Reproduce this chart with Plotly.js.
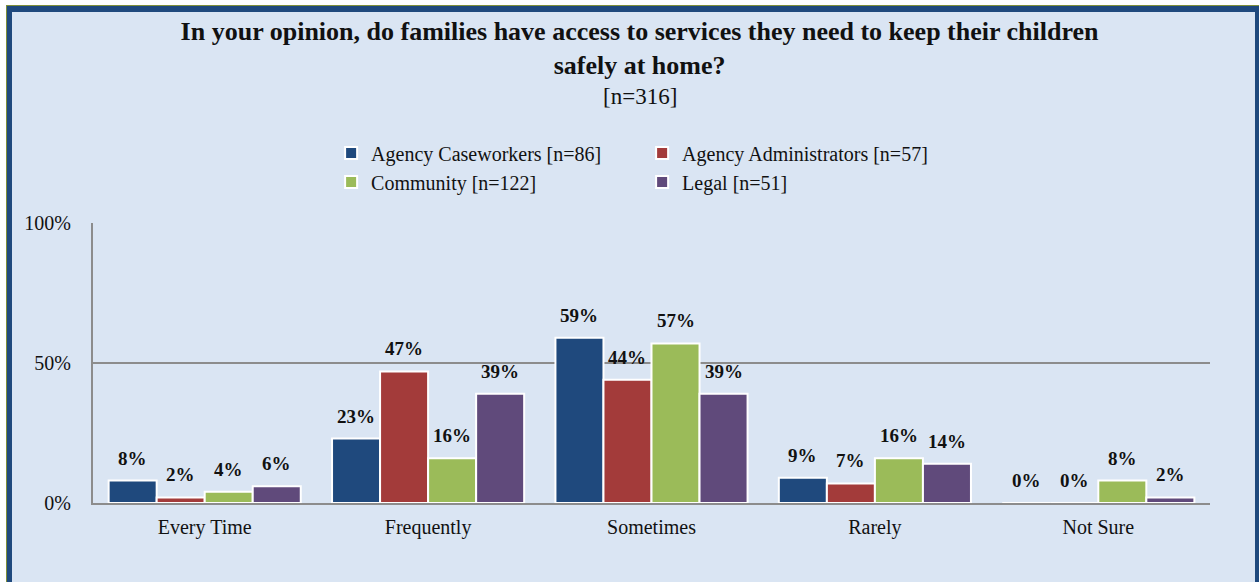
<!DOCTYPE html>
<html>
<head>
<meta charset="utf-8">
<script src="https://cdn.plot.ly/plotly-3.0.1.min.js"></script>
<style>
  html, body { margin: 0; padding: 0; background: #ffffff; }
  #wrap { position: relative; width: 1259px; height: 582px; overflow: hidden; }
  #chart { position: absolute; left: 0; top: 0; width: 1259px; height: 582px; }
  .deco { position: absolute; pointer-events: none; }
</style>
</head>
<body>
<div id="wrap">
  <div id="chart"></div>
  <!-- frame decoration -->
  <div class="deco" style="left:0;top:0;width:1259px;height:5px;background:#ffffff;"></div>
  <div class="deco" style="left:0;top:0;width:6px;height:582px;background:#ffffff;"></div>
  <div class="deco" style="left:6px;top:5px;width:1253px;height:1px;background:#7f8f3a;"></div>
  <div class="deco" style="left:6px;top:5px;width:1px;height:577px;background:#7f8f3a;"></div>
  <div class="deco" style="left:7px;top:6px;width:1252px;height:6px;background:#1f497d;"></div>
  <div class="deco" style="left:7px;top:6px;width:5px;height:576px;background:#1f497d;"></div>
  <div class="deco" style="left:1255px;top:6px;width:4px;height:576px;background:#1f497d;"></div>
</div>
<script>
const categories = ["Every Time", "Frequently", "Sometimes", "Rarely", "Not Sure"];
const seriesNames = ["Agency Caseworkers [n=86]", "Agency Administrators [n=57]", "Community [n=122]", "Legal [n=51]"];
const caseworkers = [8, 23, 59, 9, 0];
const administrators = [2, 47, 44, 7, 0];
const community = [4, 16, 57, 16, 8];
const legal = [6, 39, 39, 14, 2];
const yTicks = [0, 50, 100];
const yTickText = ["0%", "50%", "100%"];

const seriesValues = [caseworkers, administrators, community, legal];
const colors = ["#1f497d", "#a33b3a", "#9bbb59", "#604a7b"];
const legendIds = ["legend", "legend", "legend2", "legend2"];
const bargap = 0.14;
const serif = "Liberation Serif, Times New Roman, serif";

const traces = seriesValues.map((vals, i) => ({
  type: "bar",
  name: seriesNames[i],
  x: categories,
  y: vals,
  legend: legendIds[i],
  marker: { color: colors[i], line: { color: "#ffffff", width: 2 } },
  hoverinfo: "x+y+name"
}));

const w = (1 - bargap) / seriesValues.length;
const annotations = [];
seriesValues.forEach((vals, i) => {
  vals.forEach((v, j) => {
    annotations.push({
      x: j + (i - (seriesValues.length - 1) / 2) * w,
      y: v,
      xref: "x", yref: "y",
      text: "<b>" + v + "%</b>",
      showarrow: false,
      yanchor: "bottom",
      yshift: 10,
      font: { family: serif, size: 19, color: "#111111" }
    });
  });
});

annotations.push({
  text: "[n=316]",
  xref: "paper", yref: "paper",
  x: (640 - 93) / 1117, y: (503 - 96) / 280,
  xanchor: "center", yanchor: "middle",
  showarrow: false,
  font: { family: serif, size: 23, color: "#111111" }
});

const legendCommon = {
  orientation: "h",
  xref: "container", yref: "container",
  xanchor: "left", yanchor: "middle",
  x: 0.263,
  entrywidth: 266,
  bgcolor: "rgba(0,0,0,0)",
  font: { family: serif, size: 20, color: "#111111" },
  itemwidth: 30,
  traceorder: "normal"
};

const layout = {
  width: 1259, height: 582,
  paper_bgcolor: "#dae5f3",
  plot_bgcolor: "#dae5f3",
  margin: { l: 93, r: 49, t: 223, b: 79 },
  title: {
    text: "<b>In your opinion, do families have access to services they need to keep their children<br>safely at home?</b>",
    x: 0.508, xanchor: "center",
    y: 1 - 40 / 582, yanchor: "top",
    xref: "container", yref: "container",
    font: { family: serif, size: 26, color: "#111111" }
  },
  barmode: "group",
  bargap: bargap,
  bargroupgap: 0,
  showlegend: true,
  legend: Object.assign({}, legendCommon, { y: 1 - 153 / 582 }),
  legend2: Object.assign({}, legendCommon, { y: 1 - 182 / 582 }),
  xaxis: {
    type: "category",
    showline: true, linecolor: "#8c8c8c", linewidth: 2,
    ticks: "", showgrid: false,
    tickfont: { family: serif, size: 20, color: "#111111" },
    ticklabelstandoff: 5
  },
  yaxis: {
    range: [0, 100],
    tickmode: "array",
    tickvals: yTicks,
    ticktext: yTickText,
    showline: true, linecolor: "#8c8c8c", linewidth: 2,
    showgrid: true, gridcolor: "#8c8c8c", gridwidth: 1.5,
    zeroline: false,
    ticks: "",
    tickfont: { family: serif, size: 20, color: "#111111" },
    ticklabelstandoff: 16
  },
  annotations: annotations
};

Plotly.newPlot("chart", traces, layout, { displayModeBar: false, staticPlot: true });
</script>
</body>
</html>
